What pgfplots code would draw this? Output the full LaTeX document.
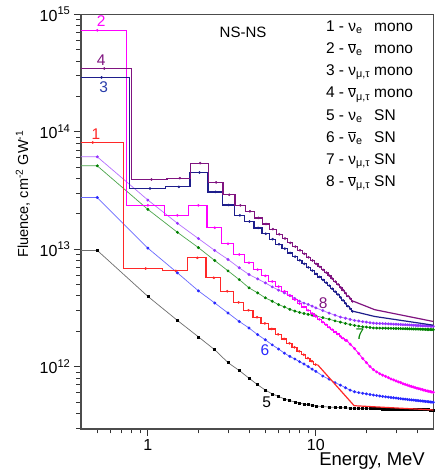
\documentclass[border=0pt]{standalone}
\usepackage{fontspec}
\setmainfont{Liberation Sans}
\usepackage{pgfplots}
\pgfplotsset{compat=1.18}
\usepackage{pgfplotstable}

\definecolor{cred}{RGB}{255,40,40}
\definecolor{cmag}{RGB}{255,0,255}
\definecolor{cnavy}{RGB}{30,30,140}
\definecolor{cpur}{RGB}{128,20,128}
\definecolor{cgray}{RGB}{110,110,110}
\definecolor{cblue}{RGB}{40,40,255}
\definecolor{cgreen}{RGB}{0,128,0}
\definecolor{cviol}{RGB}{150,50,255}
\definecolor{clab3}{RGB}{40,60,170}

% mono (staircase) series: bin lower edge, bin centre, value
\pgfplotstableread{
lo c v
0.22 0.47 8.1e13
0.72 0.97 6.84e12
1.22 1.47 6.53e12
1.72 1.97 8.43e12
2.22 2.47 5.70e12
2.72 2.97 4.38e12
3.22 3.47 3.52e12
3.72 3.97 3.02e12
4.22 4.47 2.63e12
4.72 4.97 2.33e12
5.22 5.47 2.09e12
5.72 5.97 1.88e12
6.22 6.47 1.72e12
6.72 6.97 1.58e12
7.22 7.47 1.46e12
7.72 7.97 1.35e12
8.22 8.47 1.26e12
8.72 8.97 1.18e12
9.22 9.47 1.11e12
9.72 9.97 1.04e12
10.22 nan 1.04e12
}\tred

\pgfplotstableread{
lo c v
0.25 0.50 7.3e14
0.75 1.00 2.36e13
1.25 1.50 1.94e13
1.75 2.00 2.36e13
2.25 2.50 1.52e13
2.75 3.00 1.11e13
3.25 3.50 9.00e12
3.75 4.00 7.65e12
4.25 4.50 6.68e12
4.75 5.00 5.92e12
5.25 5.50 5.31e12
5.75 6.00 4.80e12
6.25 6.50 4.38e12
6.75 7.00 4.02e12
7.25 7.50 3.71e12
7.75 8.00 3.44e12
8.25 8.50 3.21e12
8.75 9.00 3.01e12
9.25 9.50 2.83e12
9.75 10.00 2.67e12
10.25 10.50 2.52e12
10.75 11.00 2.39e12
11.25 11.50 2.27e12
11.75 12.00 2.16e12
12.25 12.50 2.06e12
12.75 13.00 1.97e12
13.25 13.50 1.89e12
13.75 14.00 1.81e12
14.25 14.50 1.74e12
14.75 15.00 1.67e12
15.25 nan 1.67e12
}\tmag

\pgfplotstableread{
lo c v
0.28 0.53 2.90e14
0.78 1.03 3.28e13
1.28 1.53 3.39e13
1.78 2.03 4.50e13
2.28 2.53 3.07e13
2.78 3.03 2.38e13
3.28 3.53 1.94e13
3.78 4.03 1.72e13
4.28 4.53 1.515e13
4.78 5.03 1.35e13
5.28 5.53 1.215e13
5.78 6.03 1.10e13
6.28 6.53 1.01e13
6.78 7.03 9.28e12
7.28 7.53 8.62e12
7.78 8.03 8.04e12
8.28 8.53 7.49e12
8.78 9.03 7.00e12
9.28 9.53 6.56e12
9.78 10.03 6.15e12
10.28 10.53 5.80e12
10.78 11.03 5.47e12
11.28 11.53 5.18e12
11.78 12.03 4.88e12
12.28 12.53 4.60e12
12.78 13.03 4.34e12
13.28 13.53 4.11e12
13.78 14.03 3.88e12
14.28 14.53 3.66e12
14.78 15.03 3.46e12
15.28 15.53 3.27e12
15.78 16.03 3.10e12
16.28 16.53 2.95e12
16.78 nan 2.95e12
}\tnavy

\pgfplotstableread{
lo c v
0.30 0.55 3.45e14
0.80 1.05 3.92e13
1.30 1.55 4.02e13
1.80 2.05 5.40e13
2.30 2.55 3.70e13
2.80 3.05 2.90e13
3.30 3.55 2.36e13
3.80 4.05 2.10e13
4.30 4.55 1.845e13
4.80 5.05 1.64e13
5.30 5.55 1.48e13
5.80 6.05 1.34e13
6.30 6.55 1.23e13
6.80 7.05 1.13e13
7.30 7.55 1.05e13
7.80 8.05 9.79e12
8.30 8.55 9.12e12
8.80 9.05 8.53e12
9.30 9.55 7.99e12
9.80 10.05 7.49e12
10.30 10.55 7.06e12
10.80 11.05 6.66e12
11.30 11.55 6.31e12
11.80 12.05 5.94e12
12.30 12.55 5.60e12
12.80 13.05 5.29e12
13.30 13.55 5.01e12
13.80 14.05 4.72e12
14.30 14.55 4.46e12
14.80 15.05 4.22e12
15.30 15.55 3.98e12
15.80 16.05 3.78e12
16.30 16.55 3.59e12
16.80 nan 3.59e12
}\tpur

% SN series
\pgfplotstableread{
x y
0.3 9.75e12
0.5 9.75e12
1.0 3.96e12
1.5 2.47e12
2.0 1.79e12
2.5 1.39e12
3.0 1.08e12
3.5 9.25e11
4.0 7.96e11
4.5 7.00e11
5.0 6.31e11
5.5 5.85e11
6.0 5.56e11
6.5 5.30e11
7.0 5.12e11
7.5 5.00e11
8.0 4.89e11
8.5 4.79e11
9.0 4.73e11
9.5 4.68e11
10 4.61e11
11 4.56e11
12 4.52e11
13 4.49e11
14 4.47e11
15 4.45e11
16 4.43e11
17 4.41e11
18 4.40e11
19 4.39e11
20 4.39e11
21 4.38e11
22 4.38e11
23 4.37e11
24 4.37e11
25 4.36e11
26 4.36e11
27 4.35e11
28 4.35e11
29 4.34e11
30 4.34e11
31 4.33e11
32 4.33e11
33 4.32e11
34 4.32e11
35 4.31e11
36 4.31e11
37 4.31e11
38 4.30e11
39 4.30e11
40 4.30e11
41 4.29e11
42 4.29e11
43 4.29e11
44 4.28e11
45 4.28e11
46 4.28e11
47 4.28e11
48 4.27e11
49 4.27e11
50 4.27e11
}\tfive

\pgfplotstableread{
x y
0.3 2.75e13
0.5 2.75e13
1.0 1.02e13
1.5 6.28e12
2.0 4.41e12
2.5 3.48e12
3.0 2.86e12
3.5 2.42e12
4.0 2.13e12
4.5 1.87e12
5.0 1.69e12
5.5 1.53e12
6.0 1.41e12
6.5 1.30e12
7.0 1.22e12
7.5 1.16e12
8.0 1.10e12
8.5 1.05e12
9.0 1.00e12
9.5 9.50e11
10 9.10e11
11 8.30e11
12 7.80e11
13 7.30e11
14 6.95e11
15 6.60e11
16 6.30e11
17 6.10e11
18 6.00e11
19 5.92e11
20 5.85e11
21 5.78e11
22 5.72e11
23 5.67e11
24 5.62e11
25 5.57e11
26 5.53e11
27 5.49e11
28 5.45e11
29 5.42e11
30 5.39e11
31 5.36e11
32 5.33e11
33 5.30e11
34 5.27e11
35 5.25e11
36 5.22e11
37 5.20e11
38 5.18e11
39 5.16e11
40 5.14e11
41 5.12e11
42 5.10e11
43 5.08e11
44 5.06e11
45 5.04e11
46 5.03e11
47 5.01e11
48 4.99e11
49 4.98e11
50 4.96e11
}\tsix

\pgfplotstableread{
x y
0.3 5.12e13
0.5 5.12e13
1.0 2.18e13
1.5 1.39e13
2.0 1.03e13
2.5 8.00e12
3.0 6.53e12
3.5 5.50e12
4.0 4.68e12
4.5 4.24e12
5.0 3.85e12
5.5 3.60e12
6.0 3.37e12
6.5 3.22e12
7.0 3.07e12
7.5 2.97e12
8.0 2.89e12
8.5 2.83e12
9.0 2.78e12
9.5 2.74e12
10 2.70e12
11 2.61e12
12 2.53e12
13 2.45e12
14 2.39e12
15 2.33e12
16 2.28e12
17 2.24e12
18 2.21e12
19 2.18e12
20 2.17e12
21 2.15e12
22 2.13e12
23 2.128e12
24 2.125e12
25 2.123e12
26 2.12e12
27 2.118e12
28 2.115e12
29 2.113e12
30 2.11e12
31 2.108e12
32 2.105e12
33 2.103e12
34 2.10e12
35 2.098e12
36 2.095e12
37 2.093e12
38 2.09e12
39 2.088e12
40 2.085e12
41 2.083e12
42 2.08e12
43 2.078e12
44 2.075e12
45 2.073e12
46 2.07e12
47 2.068e12
48 2.065e12
49 2.063e12
50 2.06e12
}\tseven

\pgfplotstableread{
x y
0.3 6.11e13
0.5 6.11e13
1.0 2.62e13
1.5 1.66e13
2.0 1.23e13
2.5 9.75e12
3.0 8.17e12
3.5 6.93e12
4.0 6.08e12
4.5 5.58e12
5.0 5.16e12
5.5 4.77e12
6.0 4.47e12
6.5 4.24e12
7.0 4.02e12
7.5 3.80e12
8.0 3.60e12
8.5 3.47e12
9.0 3.38e12
9.5 3.27e12
10 3.16e12
11 3.00e12
12 2.85e12
13 2.74e12
14 2.64e12
15 2.58e12
16 2.52e12
17 2.47e12
18 2.44e12
19 2.41e12
20 2.39e12
21 2.36e12
22 2.34e12
23 2.334e12
24 2.328e12
25 2.321e12
26 2.315e12
27 2.309e12
28 2.303e12
29 2.296e12
30 2.29e12
31 2.285e12
32 2.28e12
33 2.275e12
34 2.27e12
35 2.265e12
36 2.26e12
37 2.255e12
38 2.25e12
39 2.245e12
40 2.24e12
41 2.236e12
42 2.232e12
43 2.228e12
44 2.224e12
45 2.22e12
46 2.216e12
47 2.212e12
48 2.208e12
49 2.204e12
50 2.20e12
}\teight

% tail of the magenta (2) curve above the last bin
\pgfplotstableread{
x y
15.25 1.67e12
16 1.55e12
17 1.42e12
18 1.29e12
19 1.17e12
20 1.08e12
21 1.00e12
22 9.40e11
23 9.00e11
24 8.70e11
25 8.45e11
26 8.25e11
27 8.05e11
28 7.85e11
29 7.70e11
30 7.55e11
31 7.40e11
32 7.30e11
33 7.15e11
34 7.05e11
35 6.95e11
36 6.85e11
37 6.77e11
38 6.69e11
39 6.61e11
40 6.54e11
41 6.48e11
42 6.42e11
43 6.36e11
44 6.30e11
45 6.25e11
46 6.20e11
47 6.15e11
48 6.11e11
49 6.07e11
50 6.04e11
}\tmagtail

\begin{document}
\begin{tikzpicture}
\fill[white] (-81pt,-43pt) rectangle (355pt,429pt);
\begin{axis}[
  at={(0,0)}, anchor=south west,
  scale only axis, width=352.3pt, height=414.7pt,
  xmode=log, ymode=log,
  xmin=0.4, xmax=50, ymin=2.94e11, ymax=1e15,
  xtick={1,10}, xticklabels={1,10},
  minor xtick={0.5,0.6,0.7,0.8,0.9,2,3,4,5,6,7,8,9,20,30,40},
  ytick={1e12,1e13,1e14,1e15},
  yticklabels={10\textsuperscript{12},10\textsuperscript{13},10\textsuperscript{14},10\textsuperscript{15}},
  minor ytick={3e11,4e11,5e11,6e11,7e11,8e11,9e11,2e12,3e12,4e12,5e12,6e12,7e12,8e12,9e12,2e13,3e13,4e13,5e13,6e13,7e13,8e13,9e13,2e14,3e14,4e14,5e14,6e14,7e14,8e14,9e14},
  tick align=outside, tick pos=left,
  major tick length=7pt, minor tick length=4.5pt,
  every tick/.style={black!80, line width=0.8pt},
  axis line style={black!70, line width=1.2pt},
  tick label style={font=\fontsize{16}{18}\selectfont},
  xlabel={Energy, MeV},
  ylabel={Fluence, cm\textsuperscript{-2} GW\textsuperscript{-1}},
  xlabel style={font=\fontsize{18.5}{20}\selectfont, at={(axis description cs:0.986,-0.089)}, anchor=base east},
  ylabel style={font=\fontsize{14.5}{17}\selectfont, at={(axis description cs:-0.165,0.566)}, anchor=center},
  clip mode=individual,
]
% SN curves
\addplot[cgray, line width=0.7pt, mark=square*, mark size=1.0pt, mark options={black, fill=black}] table[x=x,y=y] {\tfive};
\addplot[cblue!70, line width=0.7pt, mark=*, mark size=1.1pt, mark options={cblue, fill=cblue}] table[x=x,y=y] {\tsix};
\addplot[cgreen!70, line width=0.7pt, mark=*, mark size=1.1pt, mark options={cgreen, fill=cgreen}] table[x=x,y=y] {\tseven};
\addplot[cviol!70, line width=0.7pt, mark=*, mark size=1.1pt, mark options={cviol, fill=cviol}] table[x=x,y=y] {\teight};
% mono curves: staircases
\addplot[cred, line width=1.2pt, const plot, no marks] table[x=lo,y=v] {\tred};
\addplot[cred, only marks, mark=*, mark size=1.1pt] table[x=c,y=v] {\tred};
\addplot[cred, line width=1.2pt, no marks] coordinates {(10.22,1.04e12) (16.9,4.64e11) (50,4.27e11)};
\addplot[cmag, line width=1.2pt, const plot, no marks] table[x=lo,y=v] {\tmag};
\addplot[cmag, only marks, mark=*, mark size=1.1pt] table[x=c,y=v] {\tmag};
\addplot[cmag, line width=0.9pt, mark=*, mark size=1.0pt] table[x=x,y=y] {\tmagtail};
\addplot[cnavy, line width=1.2pt, const plot, no marks] table[x=lo,y=v] {\tnavy};
\addplot[cnavy, only marks, mark=*, mark size=1.1pt] table[x=c,y=v] {\tnavy};
\addplot[cnavy, line width=1.2pt, no marks] coordinates {(16.78,2.95e12) (22.4,2.67e12) (50,2.25e12)};
\addplot[cpur, line width=1.2pt, const plot, no marks] table[x=lo,y=v] {\tpur};
\addplot[cpur, only marks, mark=*, mark size=1.1pt] table[x=c,y=v] {\tpur};
\addplot[cpur, line width=1.2pt, no marks] coordinates {(16.8,3.59e12) (22.4,3.05e12) (50,2.42e12)};
% curve labels
\begin{scope}[every node/.style={font=\fontsize{15.5}{18}\selectfont}]
\node[text=cred] at (axis cs:0.491,9.5e13) {1};
\node[text=cmag] at (axis cs:0.528,8.7e14) {2};
\node[text=clab3] at (axis cs:0.545,2.40e14) {3};
\node[text=cpur] at (axis cs:0.528,4.05e14) {4};
\node[text=black] at (axis cs:5.09,4.92e11) {5};
\node[text=cblue] at (axis cs:4.98,1.39e12) {6};
\node[text=cgreen] at (axis cs:18.3,1.87e12) {7};
\node[text=cpur] at (axis cs:11.05,3.48e12) {8};
\end{scope}
\node[font=\fontsize{15}{18}\selectfont] at (rel axis cs:0.46,0.957) {NS-NS};
\node[anchor=north west, inner sep=0pt, font=\fontsize{15.5}{22.2}\selectfont] at (rel axis cs:0.695,0.997) {%
\begin{tabular}{@{}l@{\hspace{4pt}}l@{}}
1 - ν\textsubscript{e} & mono\\
2 - $\overline{\hbox{ν}}$\textsubscript{e} & mono\\
3 - ν\textsubscript{μ,τ} & mono\\
4 - $\overline{\hbox{ν}}$\textsubscript{μ,τ} & mono\\
5 - ν\textsubscript{e} & SN\\
6 - $\overline{\hbox{ν}}$\textsubscript{e} & SN\\
7 - ν\textsubscript{μ,τ} & SN\\
8 - $\overline{\hbox{ν}}$\textsubscript{μ,τ} & SN
\end{tabular}};
\end{axis}
\pgfresetboundingbox
\path (-81pt,-43pt) rectangle (355pt,429pt);
\end{tikzpicture}
\end{document}
